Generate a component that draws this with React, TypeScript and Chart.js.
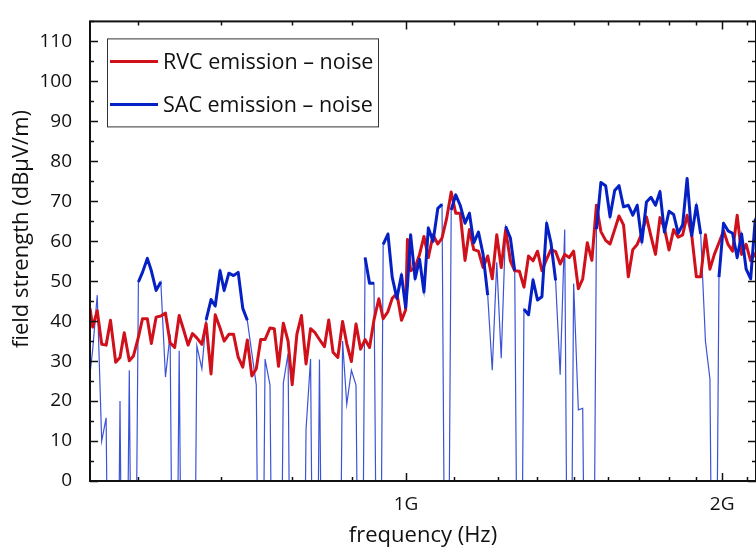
import React, { useEffect, useRef } from 'react';
import { Chart, registerables } from 'chart.js';

Chart.register(...registerables);
Chart.defaults.font.family = "'Open Sans', 'DejaVu Sans', sans-serif";

// measurement frequencies (MHz)
const freqMHz = [
  500,
  503, 508, 513, 518, 523, 529, 534, 539, 545, 550,
  556, 561, 567, 572, 578, 584, 590, 596, 602, 608,
  614, 620, 626, 632, 639, 645, 652, 658, 665, 671,
  678, 685, 692, 699, 706, 713, 720, 727, 734, 742,
  749, 756, 764, 772, 779, 787, 795, 803, 811, 819,
  827, 836, 844, 852, 861, 870, 878, 887, 896, 905,
  914, 923, 932, 942, 951, 961, 970, 980, 990, 999,
  1003,
  1010, 1020, 1030, 1040, 1050, 1061, 1072, 1082, 1093, 1104,
  1115, 1126, 1138, 1149, 1160, 1172, 1184, 1196, 1208, 1220,
  1232, 1244, 1257, 1269, 1282, 1295, 1308, 1321, 1334, 1347,
  1361, 1374, 1388, 1402, 1416, 1430, 1444, 1459, 1473, 1488,
  1503, 1518, 1533, 1549, 1564, 1580, 1595, 1611, 1628, 1644,
  1660, 1677, 1694, 1711, 1728, 1745, 1762, 1780, 1798, 1816,
  1834, 1852, 1871, 1890, 1908, 1928, 1947, 1966, 1986, 2006,
  2026, 2046, 2067, 2087, 2108, 2129, 2150, 2172,
];

// RVC emission - noise (dBµV/m)
const rvcEmission = [
  43.2,
  38.5, 42.6, 34.2, 34, 40.2, 29.7, 30.9, 37.1, 30.1, 31.3,
  36, 40.6, 40.6, 34.4, 41, 41.3, 42, 34.6, 33.4, 41.4,
  37.8, 34, 36.9, 35.8, 34.2, 39.4, 26.8, 41.6, 38.3, 35,
  36.7, 36.7, 31, 28.5, 35.3, 26.3, 28.1, 35.4, 35.4, 38.3,
  38.1, 28.7, 39.5, 35, 24.1, 36.7, 41.4, 29.3, 38.1, 37.1,
  35.4, 33.6, 40.3, 32.2, 30.9, 39.9, 34.4, 29.9, 39.3, 33,
  35.4, 33.4, 40.3, 45.6, 40.6, 42.4, 45.7, 46.9, 40.2, 42.8,
  60.4,
  52.6, 53.4, 56.7, 61.2, 55.9, 61.6, 59.3, 60.8, 65.7, 72.3,
  67, 67, 55.2, 62.9, 57.9, 57.5, 53.4, 56.3, 50.6, 61.6,
  53.4, 62.9, 55.1, 52.6, 52.5, 48.5, 56.3, 55.1, 57.5, 52.6,
  55.5, 57.9, 57.4, 54.3, 56.7, 55.9, 57.5, 48.1, 50.6, 59.6,
  55.2, 69, 62.4, 60.2, 59.3, 62.9, 66.3, 64.1, 51.1, 57.9,
  59.2, 62, 66.1, 61.2, 56.7, 65.9, 63.3, 57.8, 62.9, 61,
  61.6, 66.5, 61.4, 51.1, 51.1, 61.6, 53, 56.7, 59.6, 62.6,
  59.2, 57.5, 66.5, 56.7, 59.2, 55.1, 56.9, 57,
];

// SAC emission - noise (dBµV/m); -100 = no valid value (below floor)
const sacEmission = [
  26.8,
  33, 46.5, 10, 15.8, -100, -100, 20, -100, 27.7, -100,
  49.8, 52.2, 55.7, 52.6, 47.7, 49.8, 26, 36.7, -100, 32.6,
  -100, -100, -100, 33.8, 28.1, 40.3, 45.4, 43.8, 52.6, 47.7,
  52, 51.4, 52.2, 43.2, 40.2, 32, 24, -100, 30.5, 24,
  -100, -100, 24.5, 31.9, -100, -100, -100, 12.9, 30.5, -100,
  30.4, -100, -100, -100, -100, 35, 19.2, 27.7, 24, -100,
  55.9, 49.5, 49.5, -100, 59.2, 61.8, 51, 45.7, 51.6, 43.4,
  48.8,
  61.6, 50.6, 55.5, 47.3, 63.3, 60, 68.2, 69.2, -100, 67.8,
  71.6, 69, 64.5, 67, 59.6, 62.3, 56.7, 46.5, 27.7, 54.7,
  30.7, 63.7, 60.8, 52.6, -100, 43, 41.6, 50.3, 45.3, 46.1,
  64.5, 59.6, 50.2, 26.6, 62.9, -100, 49.4, 17.8, 18.2, -100,
  -100, 63, 74.7, 73.9, 66.1, 72.7, 73.9, 68.6, 69, 66.5,
  69, 59.8, 69.8, 71, 69, 72.4, 62.3, 67.5, 66.7, 62,
  64.1, 75.7, 61.4, 69, 61.8, 35, 25.6, -100, 51, 64.5,
  62.6, 62, 55.9, 61.8, 53, 50.6, 65.3, 61.6,
];

// index ranges (inclusive) where the SAC trace is valid (drawn bold)
const sacBoldRanges = [
  [11, 16], [26, 35], [61, 63], [65, 79], [81, 89],
  [93, 95], [97, 104], [113, 136], [140, 149],
];

const xMajorTicks = [1000, 2000];
const xMajorLabels = ['1G', '2G'];
const xMinorTicks = [556, 667, 778, 889, 1111, 1222, 1333, 1444, 1556, 1667, 1778, 1889, 2111];
const seriesLabels = ['RVC emission – noise', 'SAC emission – noise'];
const xTitle = 'frequency (Hz)';
const yTitle = 'field strength (dBµV/m)';

const RED = '#d0101a';
const BLUE = '#0520c4';

const framePlugin = {
  id: 'frameTicks',
  afterDatasetsDraw(chart: any) {
    const { ctx, chartArea: a, scales } = chart;
    const x = scales.x;
    const y = scales.y;
    ctx.save();
    ctx.strokeStyle = '#111';
    ctx.lineWidth = 1.5;
    ctx.beginPath();
    for (const t of x.ticks) {
      const px = Math.round(x.getPixelForValue(t.value)) + 0.5;
      const len = xMajorTicks.includes(t.value) ? 8 : 4;
      ctx.moveTo(px, a.bottom);
      ctx.lineTo(px, a.bottom - len);
      ctx.moveTo(px, a.top);
      ctx.lineTo(px, a.top + len);
    }
    for (const t of y.ticks) {
      const py = Math.round(y.getPixelForValue(t.value)) + 0.5;
      const len = t.value % 10 === 0 ? 8 : 4;
      ctx.moveTo(a.left, py);
      ctx.lineTo(a.left + len, py);
      ctx.moveTo(a.right, py);
      ctx.lineTo(a.right - len, py);
    }
    ctx.stroke();
    ctx.lineWidth = 2;
    ctx.strokeRect(a.left, a.top, a.right - a.left, a.bottom - a.top);
    ctx.restore();
  },
  afterDraw(chart: any) {
    const { ctx, chartArea: a } = chart;
    ctx.save();
    // legend
    const bx = a.left + 17;
    const by = a.top + 17;
    const bw = 271;
    const bh = 88;
    ctx.fillStyle = '#fff';
    ctx.fillRect(bx, by, bw, bh);
    ctx.strokeStyle = '#333';
    ctx.lineWidth = 1;
    ctx.strokeRect(bx + 0.5, by + 0.5, bw, bh);
    const entries = [chart.data.datasets[0], chart.data.datasets[1]];
    ctx.font = "21.5px 'Open Sans', sans-serif";
    ctx.textBaseline = 'middle';
    ctx.textAlign = 'left';
    entries.forEach((ds: any, j: number) => {
      const ly = by + 23 + j * 43;
      ctx.strokeStyle = ds.borderColor;
      ctx.lineWidth = 3;
      ctx.beginPath();
      ctx.moveTo(bx + 3, ly);
      ctx.lineTo(bx + 51, ly);
      ctx.stroke();
      ctx.fillStyle = '#111';
      ctx.fillText(ds.label, bx + 56, ly + 1);
    });
    // y axis title
    ctx.font = "22px 'Open Sans', sans-serif";
    ctx.translate(22, 229);
    ctx.rotate(-Math.PI / 2);
    ctx.textAlign = 'center';
    ctx.fillStyle = '#111';
    ctx.fillText(yTitle, 0, 0);
    ctx.restore();
  },
};

export default function App() {
  const ref = useRef<HTMLCanvasElement | null>(null);

  useEffect(() => {
    document.body.style.margin = '0';
    document.body.style.overflow = 'hidden';
    const canvas = ref.current;
    if (!canvas) return;

    const inBold = (i: number) => sacBoldRanges.some(([s, e]) => i >= s && i <= e);
    const rvcPts = freqMHz.map((f, i) => ({ x: f, y: rvcEmission[i] }));
    const sacAll = freqMHz.map((f, i) => ({ x: f, y: sacEmission[i] }));
    const sacBold = freqMHz.map((f, i) => ({ x: f, y: inBold(i) ? sacEmission[i] : null }));

    const chart = new Chart(canvas, {
      type: 'line',
      data: {
        datasets: [
          {
            label: seriesLabels[0],
            data: rvcPts,
            borderColor: RED,
            borderWidth: 3,
            pointRadius: 0,
            borderJoinStyle: 'round',
            order: 2,
          },
          {
            label: seriesLabels[1],
            data: sacBold as any,
            borderColor: BLUE,
            borderWidth: 3,
            pointRadius: 0,
            borderJoinStyle: 'round',
            spanGaps: false,
            order: 1,
          },
          {
            label: seriesLabels[1] + ' (all points)',
            data: sacAll,
            borderColor: 'rgba(10,40,205,0.8)',
            borderWidth: 1.2,
            pointRadius: 0,
            order: 3,
          },
        ],
      },
      options: {
        responsive: false,
        animation: false,
        events: [],
        layout: { padding: { top: 13, left: 0, right: 0, bottom: 0 } },
        plugins: { legend: { display: false }, tooltip: { enabled: false } },
        scales: {
          x: {
            type: 'logarithmic',
            min: 500,
            max: 2154,
            grid: { display: false },
            border: { display: false },
            afterBuildTicks: (s: any) => {
              s.ticks = [...xMinorTicks, ...xMajorTicks]
                .sort((p, q) => p - q)
                .map((v) => ({ value: v }));
            },
            afterFit: (s: any) => {
              s.height = 67;
            },
            ticks: {
              autoSkip: false,
              maxRotation: 0,
              padding: 4,
              color: '#111',
              font: { size: 19 },
              callback: (v: any) => {
                const j = xMajorTicks.indexOf(Number(v));
                return j >= 0 ? xMajorLabels[j] : '';
              },
            },
            title: {
              display: true,
              text: xTitle,
              color: '#111',
              font: { size: 22 },
              padding: { top: 0, bottom: -1 },
            },
          },
          y: {
            type: 'linear',
            min: 0,
            max: 115,
            grid: { display: false },
            border: { display: false },
            afterFit: (s: any) => {
              s.width = 90;
            },
            ticks: {
              stepSize: 5,
              autoSkip: false,
              padding: 10,
              color: '#111',
              font: { size: 19 },
              callback: (v: any) => (Number(v) % 10 === 0 ? String(v) : ''),
            },
          },
        },
      },
      plugins: [framePlugin],
    });
    return () => chart.destroy();
  }, []);

  return (
    <div style={{ width: 756, height: 548 }}>
      <canvas ref={ref} width={756} height={548} style={{ display: 'block' }} />
    </div>
  );
}
